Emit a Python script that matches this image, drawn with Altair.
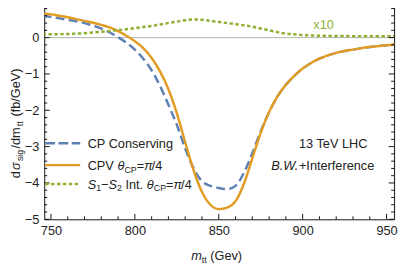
import altair as alt
import pandas as pd

# ---------------- data ----------------
mtt = [745, 750, 755, 760, 765, 770, 775, 780, 785, 790, 795, 800, 805, 810, 815,
       820, 825, 830, 835, 840, 845, 850, 855, 860, 865, 870, 875, 880, 885, 890,
       895, 900, 905, 910, 915, 920, 925, 930, 935, 940, 945, 950, 955]

cp_conserving = [0.59, 0.57, 0.53, 0.49, 0.45, 0.40, 0.33, 0.25, 0.14, 0.01, -0.14,
                 -0.33, -0.58, -0.90, -1.33, -1.85, -2.40, -3.05, -3.60, -3.95, -4.08,
                 -4.14, -4.17, -4.08, -3.72, -3.18, -2.58, -2.05, -1.62, -1.30, -1.05,
                 -0.85, -0.70, -0.58, -0.49, -0.42, -0.37, -0.33, -0.29, -0.26, -0.235,
                 -0.21, -0.19]

cpv = [0.66, 0.64, 0.60, 0.56, 0.51, 0.46, 0.41, 0.35, 0.28, 0.18, 0.05, -0.10,
       -0.29, -0.56, -0.93, -1.42, -2.08, -2.88, -3.65, -4.25, -4.60, -4.72, -4.68,
       -4.50, -4.02, -3.32, -2.62, -2.05, -1.62, -1.30, -1.05, -0.85, -0.70, -0.58,
       -0.49, -0.42, -0.37, -0.33, -0.29, -0.26, -0.235, -0.21, -0.19]

interference_x10 = [0.09, 0.09, 0.095, 0.10, 0.11, 0.12, 0.14, 0.16, 0.18, 0.21, 0.23,
                    0.26, 0.29, 0.32, 0.36, 0.40, 0.44, 0.48, 0.50, 0.49, 0.46, 0.43,
                    0.40, 0.37, 0.34, 0.30, 0.25, 0.20, 0.15, 0.11, 0.09, 0.07, 0.06,
                    0.05, 0.05, 0.045, 0.045, 0.04, 0.04, 0.04, 0.04, 0.035, 0.035]

x_major = [750, 800, 850, 900, 950]
x_minor = [760, 770, 780, 790, 810, 820, 830, 840, 860, 870, 880, 890, 910, 920, 930, 940]
y_major = [-5, -4, -3, -2, -1, 0]
y_minor = [-4.8, -4.6, -4.4, -4.2, -3.8, -3.6, -3.4, -3.2, -2.8, -2.6, -2.4, -2.2,
           -1.8, -1.6, -1.4, -1.2, -0.8, -0.6, -0.4, -0.2, 0.2, 0.4, 0.6, 0.8]

# ---------------- style ----------------
FONT = "Liberation Sans"
BLUE, ORANGE, GREEN = "#5E81B5", "#E19C24", "#8FB032"
INK = "#222222"
W, H = 357, 221
xs = alt.Scale(domain=[746, 954.5], nice=False, zero=False)
ys = alt.Scale(domain=[-5, 0.96], nice=False, zero=False)
XA = alt.Axis(values=x_major, labelPadding=6, title=None)
YA = alt.Axis(values=y_major, labelPadding=5.5, title=None)

ADV = {' ': 278, '(': 333, ')': 333, '/': 278, '.': 278, '=': 584, '−': 584, '+': 584,
       'A': 667, 'B': 667, 'C': 722, 'E': 667, 'G': 778, 'H': 722, 'I': 278, 'L': 556,
       'P': 667, 'S': 667, 'T': 611, 'V': 667, 'W': 944, 'a': 556, 'b': 556, 'c': 500,
       'd': 556, 'e': 556, 'f': 278, 'g': 556, 'i': 222, 'm': 833, 'n': 556, 'o': 556,
       'r': 333, 's': 500, 't': 278, 'v': 500, 'x': 500, 'θ': 556, 'σ': 600, 'π': 600}


def tw(s, size):
    return sum(ADV.get(c, 556) for c in s) * size / 1000.0


def txt(s, x, y, size=13, italic=False, color=INK, angle=0, align="left",
        baseline="alphabetic"):
    kw = dict(font=FONT, fontSize=size, color=color, align=align, baseline=baseline)
    if italic:
        kw["fontStyle"] = "italic"
    if angle:
        kw["angle"] = angle
    return alt.Chart(pd.DataFrame({"t": [s]})).mark_text(**kw).encode(
        text="t:N", x=alt.value(x), y=alt.value(y))


def hrun(parts, x, y, color=INK):
    out = []
    for s, size, italic, dy in parts:
        lead = len(s) - len(s.lstrip(' '))
        core = s.strip(' ')
        if core:
            out.append(txt(core, x + tw(' ' * lead, size), y + dy, size, italic, color))
        x += tw(s, size)
    return out


def vrun(parts, x, y, color=INK, gap=0.0):
    out = []
    for s, size, italic, dx in parts:
        lead = len(s) - len(s.lstrip(' '))
        core = s.strip(' ')
        if core:
            out.append(txt(core, x + dx, y - tw(' ' * lead, size), size, italic, color,
                           angle=270))
        y -= tw(s, size) + gap
    return out


def series(vals, color, dash=None):
    df = pd.DataFrame({"mtt": mtt, "v": vals})
    kw = dict(color=color, strokeWidth=2.5, clip=True, interpolate="monotone")
    if dash:
        kw["strokeDash"] = dash
    return alt.Chart(df).mark_line(**kw).encode(
        x=alt.X("mtt:Q", scale=xs, axis=XA),
        y=alt.Y("v:Q", scale=ys, axis=YA))


def ticks(vals, side, length):
    df = pd.DataFrame({"t": vals})
    base = alt.Chart(df).mark_rule(color="#111111", strokeWidth=1)
    if side == "bottom":
        return base.encode(x=alt.X("t:Q", scale=xs, axis=XA), y=alt.value(H), y2=alt.value(H - length))
    if side == "top":
        return base.encode(x=alt.X("t:Q", scale=xs, axis=XA), y=alt.value(0), y2=alt.value(length))
    if side == "left":
        return base.encode(y=alt.Y("t:Q", scale=ys, axis=YA), x=alt.value(0), x2=alt.value(length))
    return base.encode(y=alt.Y("t:Q", scale=ys, axis=YA), x=alt.value(W), x2=alt.value(W - length))


layers = [alt.Chart(pd.DataFrame({"z": [0]})).mark_rule(color="#b0b0b0", strokeWidth=1).encode(
    y=alt.Y("z:Q", scale=ys, axis=YA))]
layers += [series(cp_conserving, BLUE, [9, 4.5]),
           series(cpv, ORANGE),
           series(interference_x10, GREEN, [3.5, 2.5])]

for side in ["bottom", "top"]:
    layers.append(ticks(x_major, side, 5.5))
    layers.append(ticks(x_minor, side, 3))
for side in ["left", "right"]:
    layers.append(ticks(y_major, side, 5.5))
    layers.append(ticks(y_minor, side, 3))


def sample(y, color, dash=None):
    kw = dict(color=color, strokeWidth=2.5)
    if dash:
        kw["strokeDash"] = dash
    return alt.Chart(pd.DataFrame({"k": [0]})).mark_rule(**kw).encode(
        x=alt.value(1), x2=alt.value(36.7), y=alt.value(y))

layers += [sample(143.3, BLUE, [10, 3.5]), sample(165.7, ORANGE), sample(185, GREEN, [3.5, 2.5])]

SUB = 3.0
lx = 44.3
layers += hrun([("CP Conserving", 13, False, 0)], lx, 147.9)
layers += hrun([("CPV ", 13, False, 0), ("θ", 13, True, 0), ("CP", 9, False, SUB),
                ("=", 13, False, 0), ("π", 13, True, 0), ("/4", 13, False, 0)], lx, 170.3)
layers += hrun([("S", 13, True, 0), ("1", 9, False, SUB), ("−", 13, False, 0),
                ("S", 13, True, 0), ("2", 9, False, SUB), (" Int. ", 13, False, 0),
                ("θ", 13, True, 0), ("CP", 9, False, SUB), ("=", 13, False, 0),
                ("π", 13, True, 0), ("/4", 13, False, 0)], lx, 189.6)

layers.append(txt("13 TeV LHC", 260, 148.5))
layers += hrun([("B.W.", 13, True, 0), ("+Interference", 13, False, 0)], 231.7, 170.3)
layers.append(txt("x10", 285, 23, color=GREEN, align="center", baseline="middle"))

layers += hrun([("m", 13, True, 0), ("tt", 9, False, 2.5), (" (Gev)", 13, False, 0)], 150, 263)
layers += vrun([("d", 13, False, 0), ("σ", 13, True, 0), ("sig", 9, False, SUB),
                ("/dm", 13, False, 0), ("tt", 9, False, SUB), (" (fb/GeV)", 13, False, 0)],
               -25, 179, gap=1.2)

chart = alt.layer(*layers).properties(
    width=W, height=H,
    padding={"left": 37, "top": -8, "right": 5, "bottom": 43},
    autosize=alt.AutoSizeParams(type="none"),
).configure_view(stroke="#111111", strokeWidth=1).configure_axis(
    grid=False, ticks=False, domain=False, labelFont=FONT, labelFontSize=13,
    labelColor=INK)

chart.save("out.html", embed_options={"renderer": "svg", "actions": False})
